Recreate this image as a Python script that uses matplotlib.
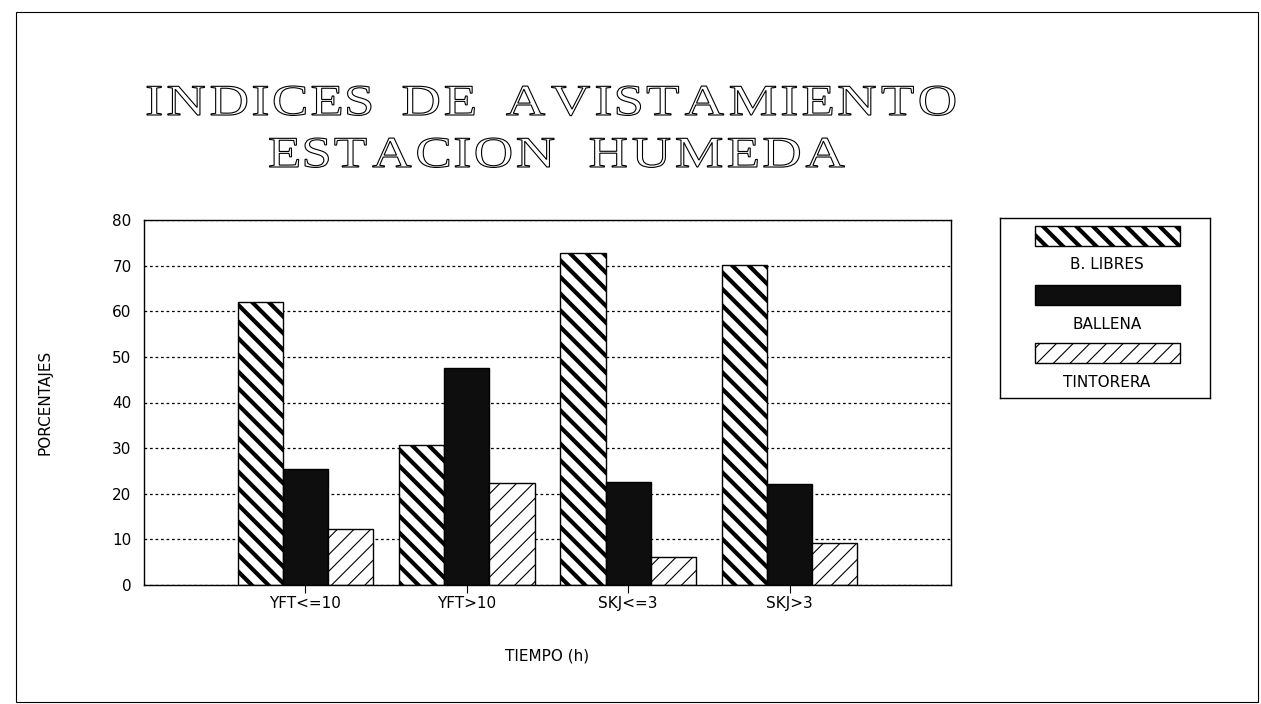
import matplotlib
matplotlib.use('Agg')
import matplotlib.pyplot as plt
from matplotlib.patches import Rectangle, PathPatch
from matplotlib.textpath import TextPath
from matplotlib.font_manager import FontProperties
from matplotlib.transforms import Affine2D
import numpy as np

# Data
categories = ['YFT<=10', 'YFT>10', 'SKJ<=3', 'SKJ>3']
b_libres = [62.0, 30.7, 72.7, 70.2]
ballena = [25.4, 47.5, 22.5, 22.1]
tintorera = [12.3, 22.4, 6.2, 9.1]
series_names = ['B. LIBRES', 'BALLENA', 'TINTORERA']
y_ticks = [0, 10, 20, 30, 40, 50, 60, 70, 80]

title1 = 'INDICES DE AVISTAMIENTO'
title2 = 'ESTACION HUMEDA'

W, H = 1261, 704
plt.rcParams['font.family'] = 'DejaVu Sans'

fig = plt.figure(figsize=(W / 100, H / 100), dpi=100)


def fx(px):
    return px / W


def fy(py):
    return 1 - py / H


# overlay in pixel coords, used for the outlined title
oax = fig.add_axes([0, 0, 1, 1])
oax.set_xlim(0, W)
oax.set_ylim(H, 0)
oax.axis('off')

# bar styles: facecolor, hatch, hatch line width
styles = [
    ('white', '\\\\', 3.0),
    ('#0e0e0e', None, 1.0),
    ('white', '//', 0.8),
]

# Main axes
ax = fig.add_axes([fx(144), fy(585), fx(951) - fx(144), fy(220) - fy(585)])
x = np.arange(1, len(categories) + 1)
w = 0.28
for i, (vals, (fc, hatch, hlw)) in enumerate(zip([b_libres, ballena, tintorera], styles)):
    with plt.rc_context({'hatch.linewidth': hlw}):
        bars = ax.bar(x + (i - 1) * w, vals, w, facecolor=fc, edgecolor='black',
                      linewidth=1.0, hatch=hatch, zorder=2)
    for b in bars:
        if hasattr(b, 'set_hatch_linewidth'):
            b.set_hatch_linewidth(hlw)

ax.set_xlim(0, 5)
ax.set_ylim(0, 80)
ax.set_yticks(y_ticks)
ax.set_xticks(x, categories)
ax.yaxis.grid(True, linestyle=(0, (2.2, 2.2)), color='black', linewidth=0.9)
ax.set_axisbelow(True)
ax.tick_params(axis='y', length=0, pad=9, labelsize=11)
ax.tick_params(axis='x', length=6, width=0.8, direction='out', pad=2, labelsize=11)
for s in ax.spines.values():
    s.set_linewidth(1.0)

ax.set_xlabel('TIEMPO (h)', fontsize=11)
ax.xaxis.set_label_coords(0.5, -0.175)
ax.set_ylabel('PORCENTAJES', fontsize=11)
ax.yaxis.set_label_coords(-0.113, 0.5)


# Title: outlined serif letters, stretched and spaced out
def spaced_title(text, cx, baseline, cap_px, stretch, target_width, word_gap):
    prop = FontProperties(family='Liberation Serif')
    em = cap_px / 0.662
    sx, sy = em * stretch, em
    words = text.split(' ')
    paths = [[TextPath((0, 0), ch, size=1, prop=prop) for ch in word] for word in words]
    widths = [[(p.get_extents().x1 - p.get_extents().x0) * sx for p in ps] for ps in paths]
    n_intra = sum(len(ps) - 1 for ps in paths)
    ink = sum(sum(ws) for ws in widths)
    gap = (target_width - ink - word_gap * (len(words) - 1)) / n_intra
    xpos = cx - target_width / 2
    for ps, ws in zip(paths, widths):
        for p, cw in zip(ps, ws):
            ext = p.get_extents()
            tr = Affine2D().scale(sx, -sy).translate(xpos - ext.x0 * sx, baseline)
            oax.add_patch(PathPatch(tr.transform_path(p), facecolor='white',
                                    edgecolor='black', linewidth=0.8))
            xpos += cw + gap
        xpos += word_gap - gap


spaced_title(title1, 551, 115, 29, 1.25, 808, 32)
spaced_title(title2, 557, 167, 29, 1.25, 575, 36)

# Legend box
lax = fig.add_axes([fx(1000), fy(398), fx(1210) - fx(1000), fy(218) - fy(398)])
lax.set_xlim(1000, 1210)
lax.set_ylim(398, 218)
lax.set_xticks([])
lax.set_yticks([])
for s in lax.spines.values():
    s.set_linewidth(1.0)
patch_y = [226, 285, 343]
label_y = [265, 325, 383]
for name, (fc, hatch, hlw), py, ly in zip(series_names, styles, patch_y, label_y):
    with plt.rc_context({'hatch.linewidth': hlw}):
        rect = Rectangle((1035, py), 145, 20, facecolor=fc, edgecolor='black',
                         linewidth=1.0, hatch=hatch)
    if hasattr(rect, 'set_hatch_linewidth'):
        rect.set_hatch_linewidth(hlw)
    lax.add_patch(rect)
    lax.text(1107, ly, name, ha='center', va='center', fontsize=11)

# Outer frame
fig.patches.append(Rectangle((fx(16), fy(702)), fx(1258) - fx(16), fy(12) - fy(702),
                             transform=fig.transFigure, fill=False, linewidth=0.8,
                             edgecolor='black'))

fig.savefig('out.png', dpi=100)
